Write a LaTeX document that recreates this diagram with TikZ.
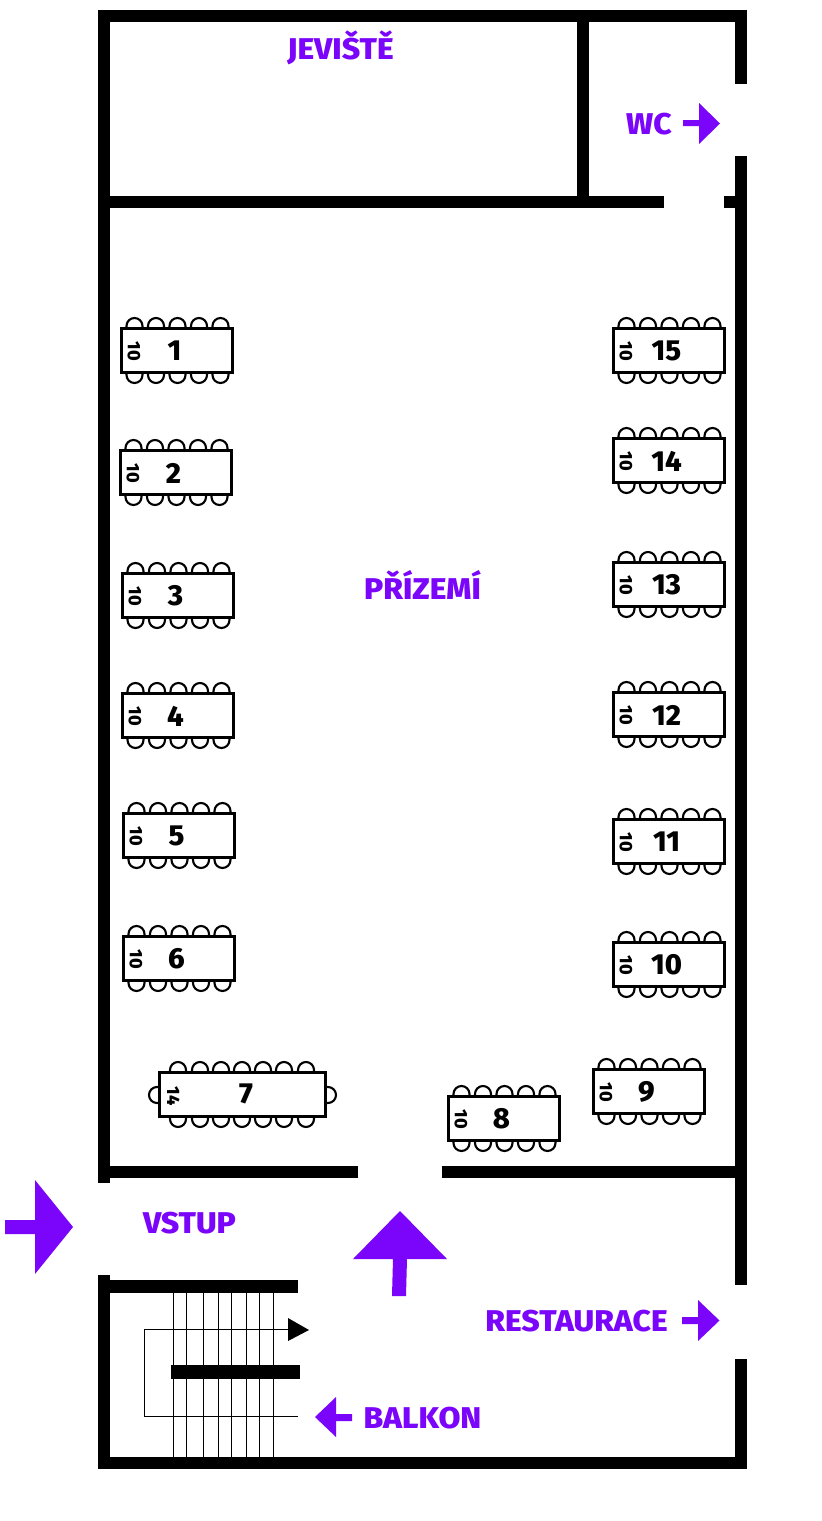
\documentclass[tikz,border=0pt]{standalone}
\usepackage{fontspec}
\setmainfont{Fira Sans ExtraBold}
\newfontfamily\widefont[FakeStretch=1.06]{Fira Sans ExtraBold}
\definecolor{vio}{RGB}{122,5,250}
\tikzset{
 wall/.style={fill=black,draw=none},
 tablebox/.style={draw=black,line width=2.8,fill=white,minimum width=111,minimum height=44,inner sep=0,outer sep=0,anchor=north west},
 chair/.style={draw=black,line width=2.1,fill=white},
 numlab/.style={font=\fontsize{29}{29}\selectfont,text=black,inner sep=0},
 seatlab/.style={font=\fontsize{18}{18}\selectfont,text=black,inner sep=0,rotate=-90},
 vlab/.style={font=\widefont\fontsize{30}{30}\selectfont,text=vio,inner sep=0},
 varrow/.style={fill=vio,draw=none},
 stair/.style={draw=black,line width=1},
}
\newcommand{\chairs}[4]{% x left, y top, height, list of offsets
 \foreach \o in {#4} {
  \draw[chair] (#1+\o-8,#2+6) -- (#1+\o-8,#2-2) arc[start angle=180,end angle=360,radius=8] -- (#1+\o+8,#2+6);
  \draw[chair] (#1+\o-8,#2+#3-6) -- (#1+\o-8,#2+#3+2) arc[start angle=180,end angle=0,radius=8] -- (#1+\o+8,#2+#3-6);
 }}
\newcommand{\tbl}[4]{% name, x, y, number
 \chairs{#2}{#3}{45}{13.5,35,56.5,78,99.5}
 \node[tablebox] (t#1) at (#2+0.5,#3+0.5) {};
 \node[numlab] (n#1) at (#2+53.5,#3+23) {#4};
 \node[seatlab] (s#1) at (#2+13,#3+23.5) {10};
}
\begin{document}
\begin{tikzpicture}[x=1pt,y=-1pt]
\useasboundingbox[fill=white] (0,0) rectangle (822,1521);
% walls
\fill[wall] (98,10) rectangle (747,22);
\fill[wall] (98,10) rectangle (110,1183);
\fill[wall] (98,1275) rectangle (110,1469);
\fill[wall] (98,1457) rectangle (747,1469);
\fill[wall] (735,10) rectangle (747,84);
\fill[wall] (735,156) rectangle (747,1285);
\fill[wall] (735,1359) rectangle (747,1469);
\fill[wall] (98,196) rectangle (664,208);
\fill[wall] (724,196) rectangle (747,208);
\fill[wall] (577,10) rectangle (589,208);
\fill[wall] (98,1166) rectangle (358,1178);
\fill[wall] (442,1166) rectangle (747,1178);
% stairs
\foreach \x in {173,186.5,203,218,231,246.5,259.5,273.5} \draw[stair] (\x,1290) -- (\x,1458);
\draw[stair] (292,1329.5) -- (144.5,1329.5) -- (144.5,1416.5) -- (298,1416.5);
\fill[wall] (110,1280) rectangle (298,1293);
\fill[wall] (171,1365) rectangle (300,1379);
\fill[black] (288,1318) -- (309,1330) -- (288,1341) -- cycle;
% tables
\tbl{1}{121}{328}{1}
\tbl{2}{120}{450}{2}
\tbl{3}{122}{573}{3}
\tbl{4}{122}{693}{4}
\tbl{5}{123}{813}{5}
\tbl{6}{123}{936}{6}
\tbl{15}{613}{328}{15}
\tbl{14}{613}{438}{14}
\tbl{13}{613}{562}{13}
\tbl{12}{613}{692}{12}
\tbl{11}{613}{819}{11}
\tbl{10}{613}{942}{10}
\tbl{9}{593}{1069}{9}
\tbl{8}{448}{1096}{8}
% table 7
\chairs{159}{1072}{45}{19,41,62,83,104,125,147}
\draw[chair] (164,1087) -- (157,1087) arc[start angle=270,end angle=90,radius=8] -- (164,1103);
\draw[chair] (321,1087) -- (328,1087) arc[start angle=-90,end angle=90,radius=8] -- (321,1103);
\node[tablebox,minimum width=166] (t7) at (159.5,1072.5) {};
\node[numlab] (n7) at (246,1094) {7};
\node[seatlab] (s7) at (173.5,1096) {14};
% labels
\node[vlab] (jev) at (340.5,48) {JEVIŠTĚ};
\node[vlab] (wc) at (649,124) {WC};
\node[vlab] (pri) at (422.5,585) {PŘÍZEMÍ};
\node[vlab] (vst) at (189.5,1223) {VSTUP};
\node[vlab] (res) at (576.5,1321) {RESTAURACE};
\node[vlab] (bal) at (422.5,1418) {BALKON};
% arrows
\fill[varrow] (683,120) -- (699,120) -- (699,103) -- (720,123.5) -- (699,144) -- (699,126) -- (683,126) -- cycle;
\fill[varrow] (682,1317) -- (698,1317) -- (698,1300) -- (719.5,1320.5) -- (698,1341) -- (698,1324) -- (682,1324) -- cycle;
\fill[varrow] (352,1414) -- (336,1414) -- (336,1397) -- (315,1417) -- (336,1437) -- (336,1421) -- (352,1421) -- cycle;
\fill[varrow] (5,1220) -- (35,1220) -- (35,1180) -- (73,1227) -- (35,1274) -- (35,1234) -- (5,1234) -- cycle;
\fill[varrow] (392,1296) -- (393,1259) -- (353,1259) -- (400,1211) -- (447,1259) -- (407,1259) -- (406,1296) -- cycle;
\end{tikzpicture}
\end{document}
